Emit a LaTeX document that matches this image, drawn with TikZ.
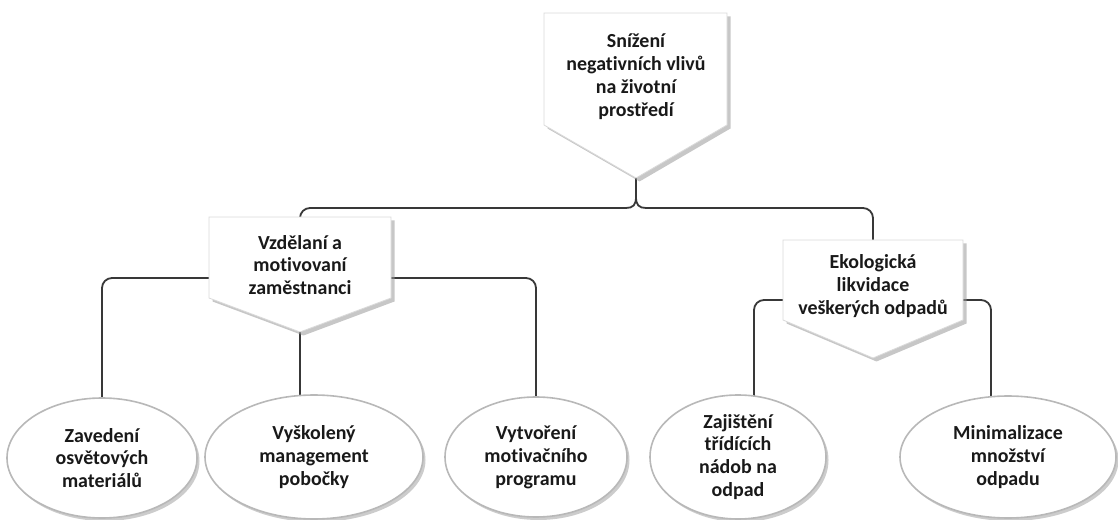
\documentclass[tikz,border=0pt]{standalone}
\usepackage{fontspec}
\setmainfont{Carlito}[Ligatures=NoCommon]
\usetikzlibrary{shapes.geometric,shadows}
\begin{document}
\begin{tikzpicture}[x=1bp,y=-1bp,
  conn/.style={draw=black!78, line width=1.8bp},
  penta/.style={fill=white, draw=black!15, line width=0.8bp,
    drop shadow={shadow xshift=3.5bp, shadow yshift=-3.5bp, fill=black!40, opacity=0.55}},
  oval/.style={ellipse, fill=white, draw=black!28, line width=1.6bp,
    drop shadow={shadow xshift=2.5bp, shadow yshift=-3bp, fill=black!40, opacity=0.5},
    align=center, font=\fontsize{20}{23}\selectfont\bfseries, text=black!90, inner sep=-8bp},
  lbl/.style={align=center, font=\fontsize{20}{23}\selectfont\bfseries, text=black!90, inner sep=0pt}]
\useasboundingbox (0,0) rectangle (1118,520);

% anchor coordinates
\coordinate (ttip) at (636,178);
\coordinate (brace) at (636,197);
\coordinate (bl) at (626,208);
\coordinate (br) at (646,208);
\coordinate (ltop) at (300,217);
\coordinate (lleft) at (209,278);
\coordinate (lright) at (391,278);
\coordinate (ltip) at (300,332);
\coordinate (rtop) at (873,240);
\coordinate (rleft) at (783,300);
\coordinate (rright) at (963,300);
\coordinate (c1) at (102,440);
\coordinate (c3) at (536,440);
\coordinate (c4) at (754,440);
\coordinate (c5) at (991,440);

% connectors
\draw[conn] (bl) .. controls (633,208) and (636,205) .. (brace) -- (ttip);
\draw[conn] (br) .. controls (639,208) and (636,205) .. (brace);
\draw[conn, rounded corners=10bp] (ltop) |- (bl);
\draw[conn, rounded corners=10bp] (br) -| (rtop);
\draw[conn, rounded corners=10bp] (lleft) -| (c1);
\draw[conn, rounded corners=10bp] (lright) -| (c3);
\draw[conn] (ltip) -- (ltip |- c1);
\draw[conn, rounded corners=10bp] (rleft) -| (c4);
\draw[conn, rounded corners=10bp] (rright) -| (c5);

% pentagons
\path[penta] (544,13) -- (727,13) -- (727,125) -- (ttip) -- (544,125) -- cycle;
\node[lbl] (top) at (636,77) {Snížení\\negativních vlivů\\na životní\\prostředí};

\path[penta] (209,217) -- (391,217) -- (391,298) -- (ltip) -- (209,298) -- cycle;
\node[lbl] (left) at (300,265) {Vzdělaní a\\motivovaní\\zaměstnanci};

\path[penta] (783,240) -- (963,240) -- (963,320) -- (873,358) -- (783,320) -- cycle;
\node[lbl] (right) at (873,286) {Ekologická\\likvidace\\veškerých odpadů};

% ellipses
\node[oval, minimum width=190bp, minimum height=120bp] (e1) at (102,458) {Zavedení\\osvětových\\materiálů};
\node[oval, minimum width=218bp, minimum height=124bp] (e2) at (314,457) {Vyškolený\\management\\pobočky};
\node[oval, minimum width=182bp, minimum height=120bp] (e3) at (536,457) {Vytvoření\\motivačního\\programu};
\node[oval, minimum width=176bp, minimum height=124bp] (e4) at (738,457) {Zajištění\\třídících\\nádob na\\odpad};
\node[oval, minimum width=216bp, minimum height=122bp] (e5) at (1008,457) {Minimalizace\\množství\\odpadu};
\end{tikzpicture}
\end{document}
